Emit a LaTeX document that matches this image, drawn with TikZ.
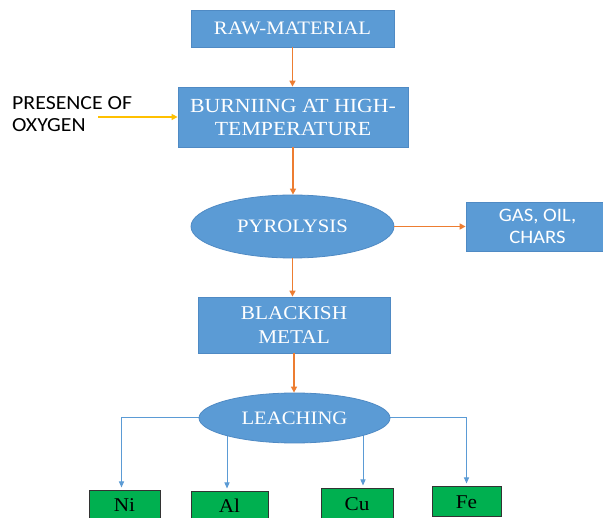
\documentclass[tikz,border=0pt]{standalone}
\usepackage{fontspec}
\setmainfont{Liberation Serif}[FakeStretch=1.09]
\newfontfamily\calfont{Carlito}[FakeStretch=1.09]
\usetikzlibrary{shapes.geometric,arrows.meta,backgrounds}

\definecolor{boxblue}{HTML}{5B9BD5}
\definecolor{boxedge}{HTML}{4F8AC4}
\definecolor{flow}{HTML}{ED7D31}
\definecolor{feed}{HTML}{FFC000}
\definecolor{metal}{HTML}{00B050}

\tikzset{
  stepbox/.style={rectangle, fill=boxblue, draw=boxedge, line width=0.8pt,
    text=white, inner sep=0pt, align=center,
    font=\fontsize{19}{23}\selectfont},
  stagebox/.style={ellipse, fill=boxblue, draw=boxedge, line width=0.8pt,
    text=white, inner sep=0pt, font=\fontsize{19}{23}\selectfont},
  metalbox/.style={rectangle, fill=metal, draw=black!80, line width=1pt,
    inner sep=0pt, font=\fontsize{19.5}{23}\selectfont},
  flowarrow/.style={draw=flow, line width=1.5pt,
    -{Triangle[length=6pt,width=6pt]}},
  feedarrow/.style={draw=feed, line width=1.5pt,
    -{Triangle[length=6pt,width=6pt]}},
  leacharrow/.style={draw=boxblue, line width=1pt, shorten >=3pt,
    -{Triangle[length=6pt,width=5pt]}}
}

\begin{document}
\begin{tikzpicture}[x=1pt,y=-1pt]
\useasboundingbox (0,0) rectangle (603,518);
\clip (0,0) rectangle (603,518);

% process stages
\node[stepbox, minimum width=203pt, minimum height=37pt] (raw) at (292.5,28.5) {RAW-MATERIAL};
\node[stepbox, minimum width=230pt, minimum height=60pt, font=\fontsize{20}{23}\selectfont] (burn) at (293,117) {BURNIING AT HIGH-\\TEMPERATURE};
\node[stagebox, minimum width=203pt, minimum height=63pt] (pyro) at (292.5,226.5) {PYROLYSIS};
\node[stepbox, minimum width=143pt, minimum height=49pt, font=\calfont\fontsize{19}{22}\selectfont] (gas) at (537.5,226.5) {GAS, OIL,\\CHARS};
\node[stepbox, minimum width=192pt, minimum height=56pt, font=\fontsize{19.5}{23.5}\selectfont] (blk) at (294,325) {BLACKISH\\METAL};
\node[stagebox, minimum width=191pt, minimum height=50pt] (leach) at (294.5,418) {LEACHING};

% side input
\node[anchor=west, align=left, inner sep=0pt, font=\calfont\fontsize{20}{22}\selectfont] (oxy) at (12,114.5) {PRESENCE OF\\OXYGEN};
\coordinate (oxyend) at (98,117);

% recovered metals
\node[metalbox, minimum width=71pt, minimum height=28pt] (ni) at (124.5,505) {Ni};
\node[metalbox, minimum width=77pt, minimum height=28pt] (al) at (229.5,506) {Al};
\node[metalbox, minimum width=72pt, minimum height=30pt] (cu) at (357,504) {Cu};
\node[metalbox, minimum width=69pt, minimum height=30pt] (fe) at (466.5,502) {Fe};

% connectors
\draw[flowarrow] (raw.south) -- (raw.south |- burn.north);
\draw[flowarrow] (burn.south) -- (burn.south |- pyro.north);
\draw[flowarrow] (pyro.east) -- (gas.west);
\draw[flowarrow] (pyro.south) -- (pyro.south |- blk.north);
\draw[flowarrow] (blk.south) -- (blk.south |- leach.north);
\draw[feedarrow] (oxyend) -- (burn.west);

\begin{scope}[on background layer]
  \fill[white] (0,0) rectangle (603,518);
  \draw[leacharrow] (leach.west) -| ([xshift=-3pt]ni.north);
  \draw[leacharrow] ([xshift=-2.5pt]al.north |- leach.center) -- ([xshift=-2.5pt]al.north);
  \draw[leacharrow] ([xshift=6pt]cu.north |- leach.center) -- ([xshift=6pt]cu.north);
  \draw[leacharrow] (leach.east) -| (fe.north);
\end{scope}
\end{tikzpicture}
\end{document}
